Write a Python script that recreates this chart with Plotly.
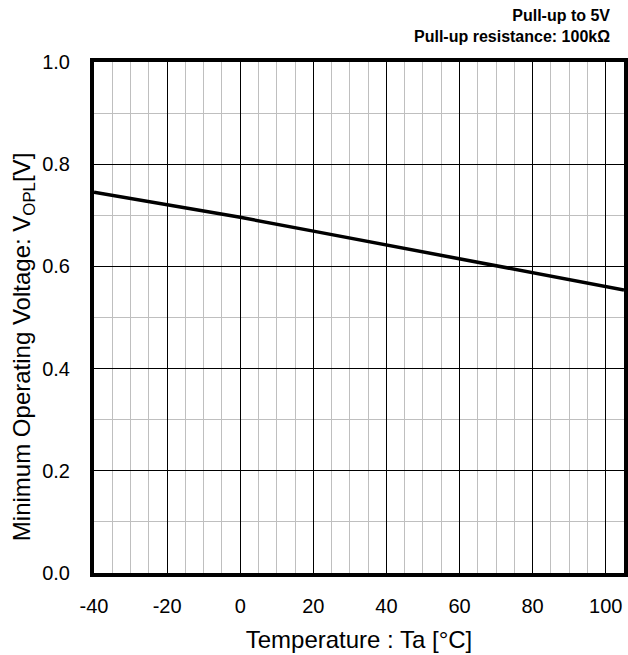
import plotly.graph_objects as go

temperature = [-40, -20, 0, 20, 40, 60, 80, 105]
vopl = [0.745, 0.721, 0.696, 0.669, 0.642, 0.616, 0.588, 0.554]

x_ticks = [-40, -20, 0, 20, 40, 60, 80, 100]
x_labels = ["-40", "-20", "0", "20", "40", "60", "80", "100"]
y_ticks = [0.0, 0.2, 0.4, 0.6, 0.8, 1.0]
y_labels = ["0.0", "0.2", "0.4", "0.6", "0.8", "1.0"]

fig = go.Figure()

fig.add_trace(
    go.Scatter(
        x=temperature,
        y=vopl,
        mode="lines",
        line=dict(color="black", width=3.5),
        showlegend=False
    )
)

font = "Liberation Sans, Arial, sans-serif"

fig.update_layout(
    width=628,
    height=655,
    margin=dict(l=94, r=4, t=62, b=82, autoexpand=False),
    plot_bgcolor="white",
    paper_bgcolor="white",
    font=dict(family=font, size=20, color="black"),
    annotations=[
        dict(
            text="<b>Pull-up to 5V</b><br><b>Pull-up resistance: 100kΩ</b>",
            xref="paper", yref="paper",
            x=1.0, y=1.0,
            xanchor="right", yanchor="bottom",
            yshift=15, xshift=-12,
            align="right",
            showarrow=False,
            font=dict(size=16, family=font)
        ),
        # y title sits a little below centre in the original
        dict(
            text="Minimum Operating Voltage: V<sub>OPL</sub>[V]",
            xref="paper", yref="paper",
            x=0, y=0.442,
            xanchor="center", yanchor="middle",
            xshift=-71,
            textangle=-90,
            showarrow=False,
            font=dict(size=24, family=font)
        )
    ]
)

fig.update_xaxes(
    range=[-40, 105],
    tickvals=x_ticks,
    ticktext=x_labels,
    showgrid=True,
    gridcolor="black",
    gridwidth=1,
    minor=dict(dtick=5, tick0=0, showgrid=True, gridcolor="#bfbfbf", gridwidth=1),
    showline=True,
    linecolor="black",
    linewidth=4,
    mirror=True,
    zeroline=False,
    ticks="",
    automargin=False,
    ticklabelstandoff=12,
    title=dict(text="Temperature : Ta [°C]", font=dict(size=24), standoff=16)
)

fig.update_yaxes(
    range=[0, 1],
    tickvals=y_ticks,
    ticktext=y_labels,
    showgrid=True,
    gridcolor="black",
    gridwidth=1,
    minor=dict(dtick=0.1, tick0=0, showgrid=True, gridcolor="#bfbfbf", gridwidth=1),
    showline=True,
    linecolor="black",
    linewidth=4,
    mirror=True,
    zeroline=False,
    ticks="",
    automargin=False,
    ticklabelstandoff=16
)

fig.write_html(
    "out.html",
    config={"displayModeBar": False},
    post_script="document.body.style.margin='0px';"
)
